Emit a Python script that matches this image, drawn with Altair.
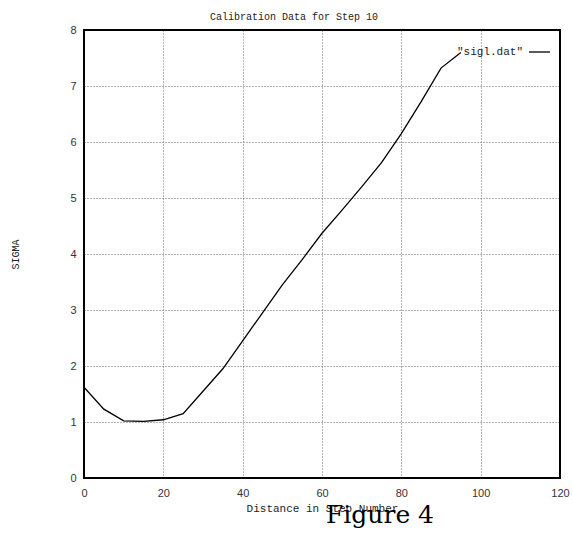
import altair as alt
import pandas as pd

# Data
distance = [0, 5, 10, 15, 20, 25, 30, 35, 40, 45, 50, 55, 60, 65, 70, 75, 80, 85, 90, 95]
sigma = [1.62, 1.23, 1.02, 1.01, 1.04, 1.15, 1.55, 1.95, 2.45, 2.95, 3.45, 3.9,
         4.37, 4.78, 5.2, 5.63, 6.15, 6.72, 7.32, 7.6]
x_ticks = [0, 20, 40, 60, 80, 100, 120]
y_ticks = [0, 1, 2, 3, 4, 5, 6, 7, 8]

df = pd.DataFrame({"distance": distance, "sigma": sigma})
one = pd.DataFrame({"k": [0]})

W, H = 476, 448
MONO = "Liberation Mono"

x_enc = alt.X("distance:Q",
              scale=alt.Scale(domain=[0, 120], nice=False),
              axis=alt.Axis(values=x_ticks, title="Distance in Step Number",
                            titleFont=MONO, titleFontSize=11, titleFontWeight="normal",
                            titleColor="#222", titleY=30, titleBaseline="middle",
                            labelFont="Liberation Sans", labelFontSize=11, labelColor="#333",
                            labelPadding=9, ticks=False, domain=False,
                            grid=True, gridColor="#666", gridDash=[1, 2], gridWidth=1,
                            labelFlush=False))
y_enc = alt.Y("sigma:Q",
              scale=alt.Scale(domain=[0, 8], nice=False),
              axis=alt.Axis(values=y_ticks, title="SIGMA",
                            titleFont=MONO, titleFontSize=10, titleFontWeight="normal",
                            titleColor="#222", titleX=-69, titleY=H / 2, titleAngle=-90,
                            titleAlign="center", titleBaseline="middle",
                            labelFont="Liberation Sans", labelFontSize=11, labelColor="#333",
                            labelPadding=8, ticks=False, domain=False,
                            grid=True, gridColor="#666", gridDash=[1, 2], gridWidth=1,
                            labelFlush=False))

line = alt.Chart(df).mark_line(color="black", strokeWidth=1.3).encode(x=x_enc, y=y_enc)

frame = alt.Chart(one).mark_rect(fill="transparent", stroke="black", strokeWidth=2).encode(
    x=alt.value(0), x2=alt.value(W), y=alt.value(0), y2=alt.value(H))

legend_text = alt.Chart(one).mark_text(
    text='"sigl.dat"', font=MONO, fontSize=11, align="right", baseline="middle", color="#222"
).encode(x=alt.value(439), y=alt.value(22))

legend_line = alt.Chart(one).mark_rule(color="black", strokeWidth=1.3).encode(
    x=alt.value(445), x2=alt.value(466), y=alt.value(22))

fig_text = alt.Chart(one).mark_text(
    text="Figure 4", font="DejaVu Serif", fontSize=25, align="center",
    baseline="alphabetic", color="black"
).encode(x=alt.value(296), y=alt.value(493))

chart = alt.layer(line, frame, legend_text, legend_line, fig_text).properties(
    width=W, height=H,
    title=alt.TitleParams("Calibration Data for Step 10", font=MONO, fontSize=10,
                          fontWeight="normal", color="#222", anchor="middle", dx=-28,
                          offset=2),
    autosize=alt.AutoSizeParams(type="none"),
    padding={"left": 84, "top": 30, "right": 13, "bottom": 55},
).configure_view(stroke=None).configure(background="white")

chart.save("out.html", embed_options={"renderer": "svg", "actions": False})
